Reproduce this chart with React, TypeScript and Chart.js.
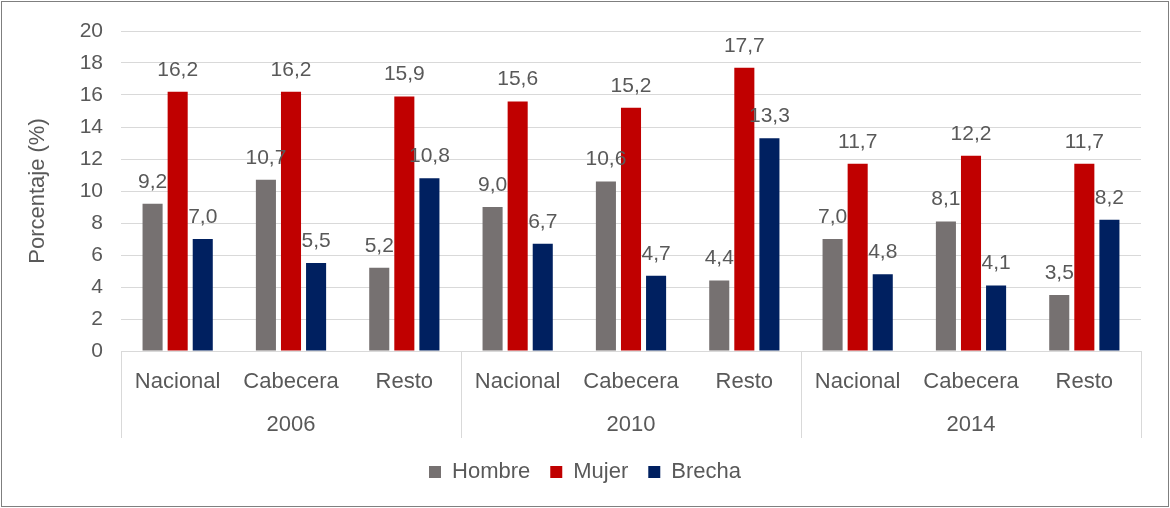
import React, { useEffect, useRef } from "react";
import { Chart, registerables } from "chart.js";

Chart.register(...registerables);

const categories = ["Nacional", "Cabecera", "Resto", "Nacional", "Cabecera", "Resto", "Nacional", "Cabecera", "Resto"];
const years = ["2006", "2010", "2014"];
const hombre = [9.2, 10.7, 5.2, 9.0, 10.6, 4.4, 7.0, 8.1, 3.5];
const mujer = [16.2, 16.2, 15.9, 15.6, 15.2, 17.7, 11.7, 12.2, 11.7];
const brecha = [7.0, 5.5, 10.8, 6.7, 4.7, 13.3, 4.8, 4.1, 8.2];
const seriesNames = ["Hombre", "Mujer", "Brecha"];
const seriesColors = ["#767171", "#C00000", "#002060"];

const TEXT = "#595959";
const FONT = "'Liberation Sans', Arial, sans-serif";

const framePlugin = {
  id: "frame",
  beforeDraw(chart: any) {
    const { ctx, width, height } = chart;
    ctx.save();
    ctx.fillStyle = "#ffffff";
    ctx.fillRect(0, 0, width, height);
    ctx.strokeStyle = "#7f7f7f";
    ctx.lineWidth = 1;
    ctx.strokeRect(1.5, 1.5, width - 3, height - 3);
    ctx.restore();
  },
};

const groupPlugin = {
  id: "groups",
  afterDraw(chart: any) {
    const { ctx } = chart;
    const xs = chart.scales.x;
    const ys = chart.scales.y;
    const n = categories.length;
    const catW = (xs.right - xs.left) / n;
    const top = ys.bottom;
    ctx.save();
    ctx.strokeStyle = "#d9d9d9";
    ctx.lineWidth = 1;
    for (let g = 0; g <= years.length; g++) {
      const x = Math.round(xs.left + g * 3 * catW) + 0.5;
      ctx.beginPath();
      ctx.moveTo(x, top);
      ctx.lineTo(x, top + 87);
      ctx.stroke();
    }
    ctx.fillStyle = TEXT;
    ctx.font = `22px ${FONT}`;
    ctx.textAlign = "center";
    ctx.textBaseline = "middle";
    years.forEach((yr, g) => {
      const cx = (xs.getPixelForValue(g * 3) + xs.getPixelForValue(g * 3 + 2)) / 2;
      ctx.fillText(yr, cx, top + 74);
    });
    ctx.restore();
  },
};

const labelPlugin = {
  id: "valueLabels",
  afterDatasetsDraw(chart: any) {
    const { ctx } = chart;
    ctx.save();
    ctx.fillStyle = TEXT;
    ctx.font = `21px ${FONT}`;
    ctx.textAlign = "center";
    ctx.textBaseline = "middle";
    chart.data.datasets.forEach((ds: any, di: number) => {
      const meta = chart.getDatasetMeta(di);
      meta.data.forEach((bar: any, i: number) => {
        const v = ds.data[i];
        ctx.fillText(v.toFixed(1).replace(".", ","), bar.x, bar.y - 22);
      });
    });
    ctx.restore();
  },
};

export default function App() {
  const ref = useRef<HTMLCanvasElement | null>(null);
  useEffect(() => {
    if (!ref.current) return;
    const data = [hombre, mujer, brecha];
    const chart = new Chart(ref.current, {
      type: "bar",
      data: {
        labels: categories,
        datasets: seriesNames.map((name, i) => ({
          label: name,
          data: data[i],
          backgroundColor: seriesColors[i],
          borderWidth: 0,
          categoryPercentage: 0.664,
          barPercentage: 0.8,
        })),
      },
      options: {
        responsive: false,
        animation: false,
        layout: { padding: { left: 29, right: 29, top: 31, bottom: 15 } },
        plugins: {
          legend: {
            position: "bottom",
            labels: {
              color: TEXT,
              font: { family: FONT, size: 22 },
              boxWidth: 12,
              boxHeight: 12,
              padding: 20,
            },
          },
          tooltip: { enabled: false },
        },
        scales: {
          x: {
            grid: { display: false, drawTicks: false },
            border: { display: false },
            ticks: {
              color: TEXT,
              font: { family: FONT, size: 22 },
              padding: 18,
              maxRotation: 0,
              autoSkip: false,
            },
            afterFit(scale: any) {
              scale.height = 90;
            },
          },
          y: {
            min: 0,
            max: 20,
            ticks: {
              stepSize: 2,
              color: TEXT,
              font: { family: FONT, size: 21 },
              padding: 18,
            },
            grid: { color: "#d9d9d9", drawTicks: false, lineWidth: 1 },
            border: { display: false },
            title: {
              display: true,
              text: "Porcentaje (%)",
              color: TEXT,
              font: { family: FONT, size: 22 },
              padding: { top: -4, bottom: 0 },
            },
            afterFit(scale: any) {
              scale.width = 92;
            },
          },
        },
      },
      plugins: [framePlugin, groupPlugin, labelPlugin],
    });
    return () => chart.destroy();
  }, []);
  return (
    <div style={{ position: "absolute", left: 0, top: 0, width: 1170, height: 508 }}>
      <canvas ref={ref} width={1170} height={508} style={{ width: 1170, height: 508, display: "block" }} />
    </div>
  );
}
